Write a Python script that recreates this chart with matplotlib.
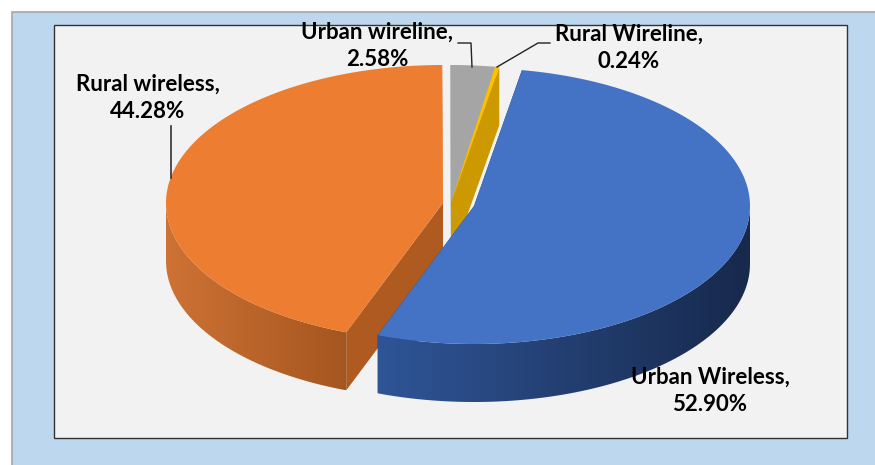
import numpy as np
import matplotlib
matplotlib.use("Agg")
import matplotlib.pyplot as plt
from matplotlib.patches import Polygon, Rectangle

plt.rcParams['font.family'] = ['Lato', 'DejaVu Sans']

names = ['Urban Wireless', 'Rural wireless', 'Urban wireline', 'Rural Wireline']
shares = [52.90, 44.28, 2.58, 0.24]
label_text = ['52.90%', '44.28%', '2.58%', '0.24%']
top_colors = ['#4472C4', '#ED7D31', '#A5A5A5', '#FFC000']
cut_colors = ['#203864', '#AE5A21', '#7C7C7C', '#CC9A00']
wall_from = ['#2F5597', '#CE7235', '#7C7C7C', '#CC9A00']
wall_to = ['#17294C', '#A5561F', '#7C7C7C', '#CC9A00']
centers = [(474, 206), (443, 203), (451, 203), (451, 203)]
radii = [276, 277, 278, 278]
label_pos = [(710, 391), (148, 98), (377, 46), (629, 48)]

ry = 138
depth = 58
start = 10.0  # first slice starts just right of 12 o'clock

fig = plt.figure(figsize=(8.75, 4.65), dpi=100)
ax = fig.add_axes([0, 0, 1, 1])
ax.set_xlim(0, 875)
ax.set_ylim(465, 0)
ax.axis('off')

# backgrounds
ax.add_patch(Rectangle((12, 12), 870, 460, fc='#BDD7EE', ec='#A6A6A6', lw=1.2, zorder=0))
ax.add_patch(Rectangle((54, 25), 793, 413, fc='#F2F2F2', ec='#333333', lw=1.0, zorder=1))


def rim(c, rx, a0, a1):
    t = np.radians(np.linspace(a0, a1, 150))
    return np.column_stack([c[0] + rx * np.sin(t), c[1] - ry * np.cos(t)])


edges = start + np.concatenate([[0], np.cumsum(shares)]) * 3.6


def draw_slice(i, z):
    c = centers[i]
    pts = rim(c, radii[i], edges[i], edges[i + 1])
    down = np.array([0, depth])

    # cut faces at both ends of the slice
    end = pts[-1]
    ax.add_patch(Polygon([c, end, end + down, np.array(c) + down], fc=cut_colors[i], ec='none', zorder=z))
    beg = pts[0]
    ax.add_patch(Polygon([c, beg, beg + down, np.array(c) + down], fc=cut_colors[i], ec='none', zorder=z))

    # outer wall, only the front half is seen
    t = np.linspace(edges[i], edges[i + 1], 150) % 360
    front = pts[(t > 90) & (t < 270)]
    if len(front) > 1:
        wall = Polygon(np.vstack([front, (front + down)[::-1]]), fc='none', ec='none', zorder=z + 1)
        ax.add_patch(wall)
        x0, x1 = front[:, 0].min(), front[:, 0].max()
        c0 = np.array(matplotlib.colors.to_rgb(wall_from[i]))
        c1 = np.array(matplotlib.colors.to_rgb(wall_to[i]))
        ramp = np.linspace(0, 1, 256)[None, :, None]
        img = c0 + (c1 - c0) * ramp
        im = ax.imshow(img, extent=(x0, x1, front[:, 1].max() + depth, front[:, 1].min()),
                       aspect='auto', zorder=z + 1)
        im.set_clip_path(wall)

    ax.add_patch(Polygon(np.vstack([[c], pts]), fc=top_colors[i], ec='none', zorder=z + 2))


draw_slice(2, 3)
draw_slice(3, 6)
draw_slice(1, 9)
draw_slice(0, 12)
ax.set_xlim(0, 875)
ax.set_ylim(465, 0)

# leader lines
ax.plot([458, 471, 472], [43, 43, 67], color='#222222', lw=1, zorder=20)
ax.plot([550, 538, 497], [43, 43, 67], color='#222222', lw=1, zorder=20)
ax.plot([171, 171], [178, 126], color='#333333', lw=1.2, zorder=20)

for name, val, (x, y) in zip(names, label_text, label_pos):
    ax.text(x, y, name + ',\n' + val, ha='center', va='center', fontsize=16,
            fontweight='bold', color='#000000', linespacing=1.33, zorder=25)

fig.savefig('out.png', dpi=100)
